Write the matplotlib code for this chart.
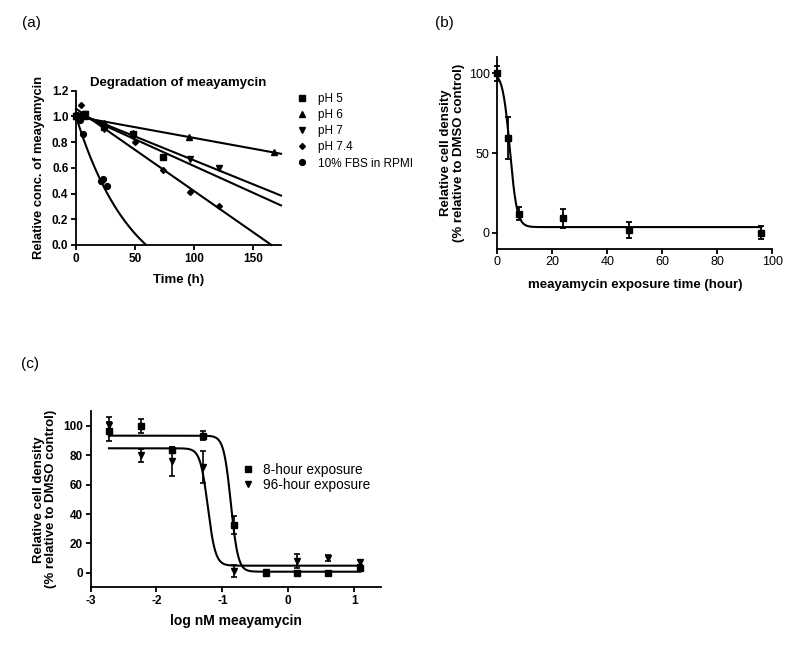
import numpy as np
import matplotlib
matplotlib.use("Agg")
from matplotlib import pyplot as plt

plt.rcParams['font.family'] = ['Liberation Sans', 'DejaVu Sans']
plt.rcParams['axes.unicode_minus'] = False

# (a) degradation of meayamycin, relative conc. vs time (h)
ph5_t = [0, 2, 8, 24, 48, 74]
ph5_y = [1.00, 1.00, 1.02, 0.92, 0.86, 0.685]
ph6_t = [0, 8, 24, 48, 96, 168]
ph6_y = [1.00, 1.00, 0.95, 0.87, 0.84, 0.72]
ph7_t = [0, 8, 24, 48, 97, 121]
ph7_y = [1.00, 1.02, 0.90, 0.85, 0.67, 0.60]
ph74_t = [0, 4, 24, 50, 74, 97, 121]
ph74_y = [1.00, 1.09, 0.92, 0.80, 0.58, 0.41, 0.30]
fbs_t = [0, 3, 6, 21, 23, 26]
fbs_y = [1.00, 0.97, 0.865, 0.50, 0.51, 0.46]
# straight-line fits (intercept, slope) for pH 5, 6, 7, 7.4
lin_intercept = [1.03, 1.00, 1.03, 1.06]
lin_slope = [-0.00415, -0.00167, -0.00371, -0.00639]
# one phase decay fit for FBS
fbs_span, fbs_k, fbs_plateau = 1.401, 0.021, -0.401

# (b) relative cell density vs exposure time
expo_t = [0, 4, 8, 24, 48, 96]
expo_y = [100, 59.5, 12, 9, 1.5, 0]
expo_err = [4.5, 13, 4, 6, 5, 4.2]
expo_top, expo_bottom, expo_t50, expo_width = 100.5, 3.5, 4.5, 1.3

# (c) dose response
log_conc = [-2.72, -2.24, -1.77, -1.29, -0.82, -0.34, 0.14, 0.61, 1.09]
h8_y = [96.5, 100, 83.5, 93.5, 32.5, 0, 0, 0, 3.4]
h8_err = [6.5, 4.5, 2, 3, 6, 1, 1, 0.5, 2]
h96_y = [101, 80, 76, 72, 1, 0.5, 8, 10, 7]
h96_err = [5, 4.5, 10, 11, 4, 1, 5, 2, 2]
# top, bottom, logIC50, hill slope
h8_fit = [93.4, 0.7, -0.87, -8.0]
h96_fit = [84.8, 4.8, -1.22, -7.5]

W, H = 800, 646
fig = plt.figure(figsize=(W / 100, H / 100), dpi=100)


def px_axes(l, t, r, b):
    return fig.add_axes([l / W, 1 - b / H, (r - l) / W, (b - t) / H])


def style(ax, bold_ticks=True):
    ax.spines['top'].set_visible(False)
    ax.spines['right'].set_visible(False)
    for s in ['left', 'bottom']:
        ax.spines[s].set_linewidth(1.3)
    ax.tick_params(direction='out', length=3.5, width=1.3, labelsize=8.5, pad=2)
    if bold_ticks:
        for lab in ax.get_xticklabels() + ax.get_yticklabels():
            lab.set_fontweight('bold')


# ---------- (a)
ax = px_axes(76, 90.7, 281, 245)
ax.set_xlim(0, 174)
ax.set_ylim(0, 1.2)
ax.set_xticks([0, 50, 100, 150])
ax.set_yticks([0, 0.2, 0.4, 0.6, 0.8, 1.0, 1.2])
ax.yaxis.set_major_formatter(matplotlib.ticker.FormatStrFormatter('%.1f'))

series = [
    (ph5_t, ph5_y, 's', 4.5, 'pH 5'),
    (ph6_t, ph6_y, '^', 4.2, 'pH 6'),
    (ph7_t, ph7_y, 'v', 4.2, 'pH 7'),
    (ph74_t, ph74_y, 'D', 3.0, 'pH 7.4'),
]
for (t, y, m, ms, lab), b0, b1 in zip(series, lin_intercept, lin_slope):
    t_end = min(174, -b0 / b1)
    xx = np.array([0, t_end])
    ax.plot(xx, b0 + b1 * xx, color='black', lw=1.5, clip_on=False)
    ax.plot(t, y, m, color='black', ms=ms, ls='none', label=lab, clip_on=False)
xx = np.linspace(0, 60, 100)
ax.plot(xx, fbs_span * np.exp(-fbs_k * xx) + fbs_plateau, color='black', lw=1.5)
ax.plot(fbs_t, fbs_y, 'o', color='black', ms=4.2, ls='none',
        label='10% FBS in RPMI', clip_on=False)
ax.set_title('Degradation of meayamycin', fontsize=9.5, fontweight='bold', pad=3.5)
ax.set_xlabel('Time (h)', fontsize=9.5, fontweight='bold', labelpad=7)
ax.set_ylabel('Relative conc. of meayamycin', fontsize=9.3, fontweight='bold', labelpad=5)
style(ax)
ax.legend(loc='upper left', bbox_to_anchor=(296 / W, 1 - 93 / H),
          bbox_transform=fig.transFigure, frameon=False, fontsize=8.5,
          handlelength=1.0, handletextpad=0.9, labelspacing=0.35,
          borderpad=0, borderaxespad=0)
fig.text(22 / W, 1 - 23 / H, '(a)', fontsize=11, va='center', ha='left')

# ---------- (b)
ax = px_axes(497.5, 57.4, 772.3, 248.6)
ax.set_xlim(0, 100)
ax.set_ylim(-10, 110)
ax.set_xticks([0, 20, 40, 60, 80, 100])
ax.set_yticks([0, 50, 100])
xx = np.linspace(0, 96, 400)
ax.plot(xx, expo_bottom + (expo_top - expo_bottom) / (1 + np.exp((xx - expo_t50) / expo_width)),
        color='black', lw=1.5)
ax.errorbar(expo_t, expo_y, yerr=expo_err, fmt='s', color='black', ms=4.5,
            capsize=2.5, elinewidth=1.3, capthick=1.3, clip_on=False)
ax.set_xlabel('meayamycin exposure time (hour)', fontsize=9.5, fontweight='bold', labelpad=8)
ax.set_ylabel('Relative cell density\n(% relative to DMSO control)', fontsize=9.5,
              fontweight='bold', labelpad=3, linespacing=1.05)
style(ax, bold_ticks=False)
ax.tick_params(labelsize=9)
fig.text(435 / W, 1 - 23 / H, '(b)', fontsize=11, va='center', ha='left')

# ---------- (c)
ax = px_axes(90.5, 411.3, 380.5, 587.4)
ax.set_xlim(-3, 1.4)
ax.set_ylim(-10, 110)
ax.set_xticks([-3, -2, -1, 0, 1])
ax.set_yticks([0, 20, 40, 60, 80, 100])
xx = np.linspace(min(log_conc), max(log_conc), 500)
for fit in (h8_fit, h96_fit):
    top, bot, ic50, hill = fit
    ax.plot(xx, bot + (top - bot) / (1 + 10 ** ((ic50 - xx) * hill)), color='black', lw=1.5)
ax.errorbar(log_conc, h8_y, yerr=h8_err, fmt='s', color='black', ms=4.5,
            capsize=2.5, elinewidth=1.2, capthick=1.2, label='8-hour exposure')
ax.errorbar(log_conc, h96_y, yerr=h96_err, fmt='v', color='black', ms=4.5,
            capsize=2.5, elinewidth=1.2, capthick=1.2, label='96-hour exposure')
ax.set_xlabel('log nM meayamycin', fontsize=10, fontweight='bold', labelpad=5)
ax.set_ylabel('Relative cell density\n(% relative to DMSO control)', fontsize=9.5,
              fontweight='bold', labelpad=4, linespacing=1.05)
style(ax)
handles, labels = ax.get_legend_handles_labels()
handles = [h[0] for h in handles]
ax.legend(handles, labels, loc='upper left', bbox_to_anchor=(241 / W, 1 - 463 / H),
          bbox_transform=fig.transFigure, frameon=False, fontsize=9.8,
          handlelength=1.0, handletextpad=0.6, labelspacing=0.05,
          borderpad=0, borderaxespad=0, markerscale=0.9)
fig.text(21 / W, 1 - 364 / H, '(c)', fontsize=11, va='center', ha='left')

fig.savefig('out.png', dpi=100, facecolor='white')
